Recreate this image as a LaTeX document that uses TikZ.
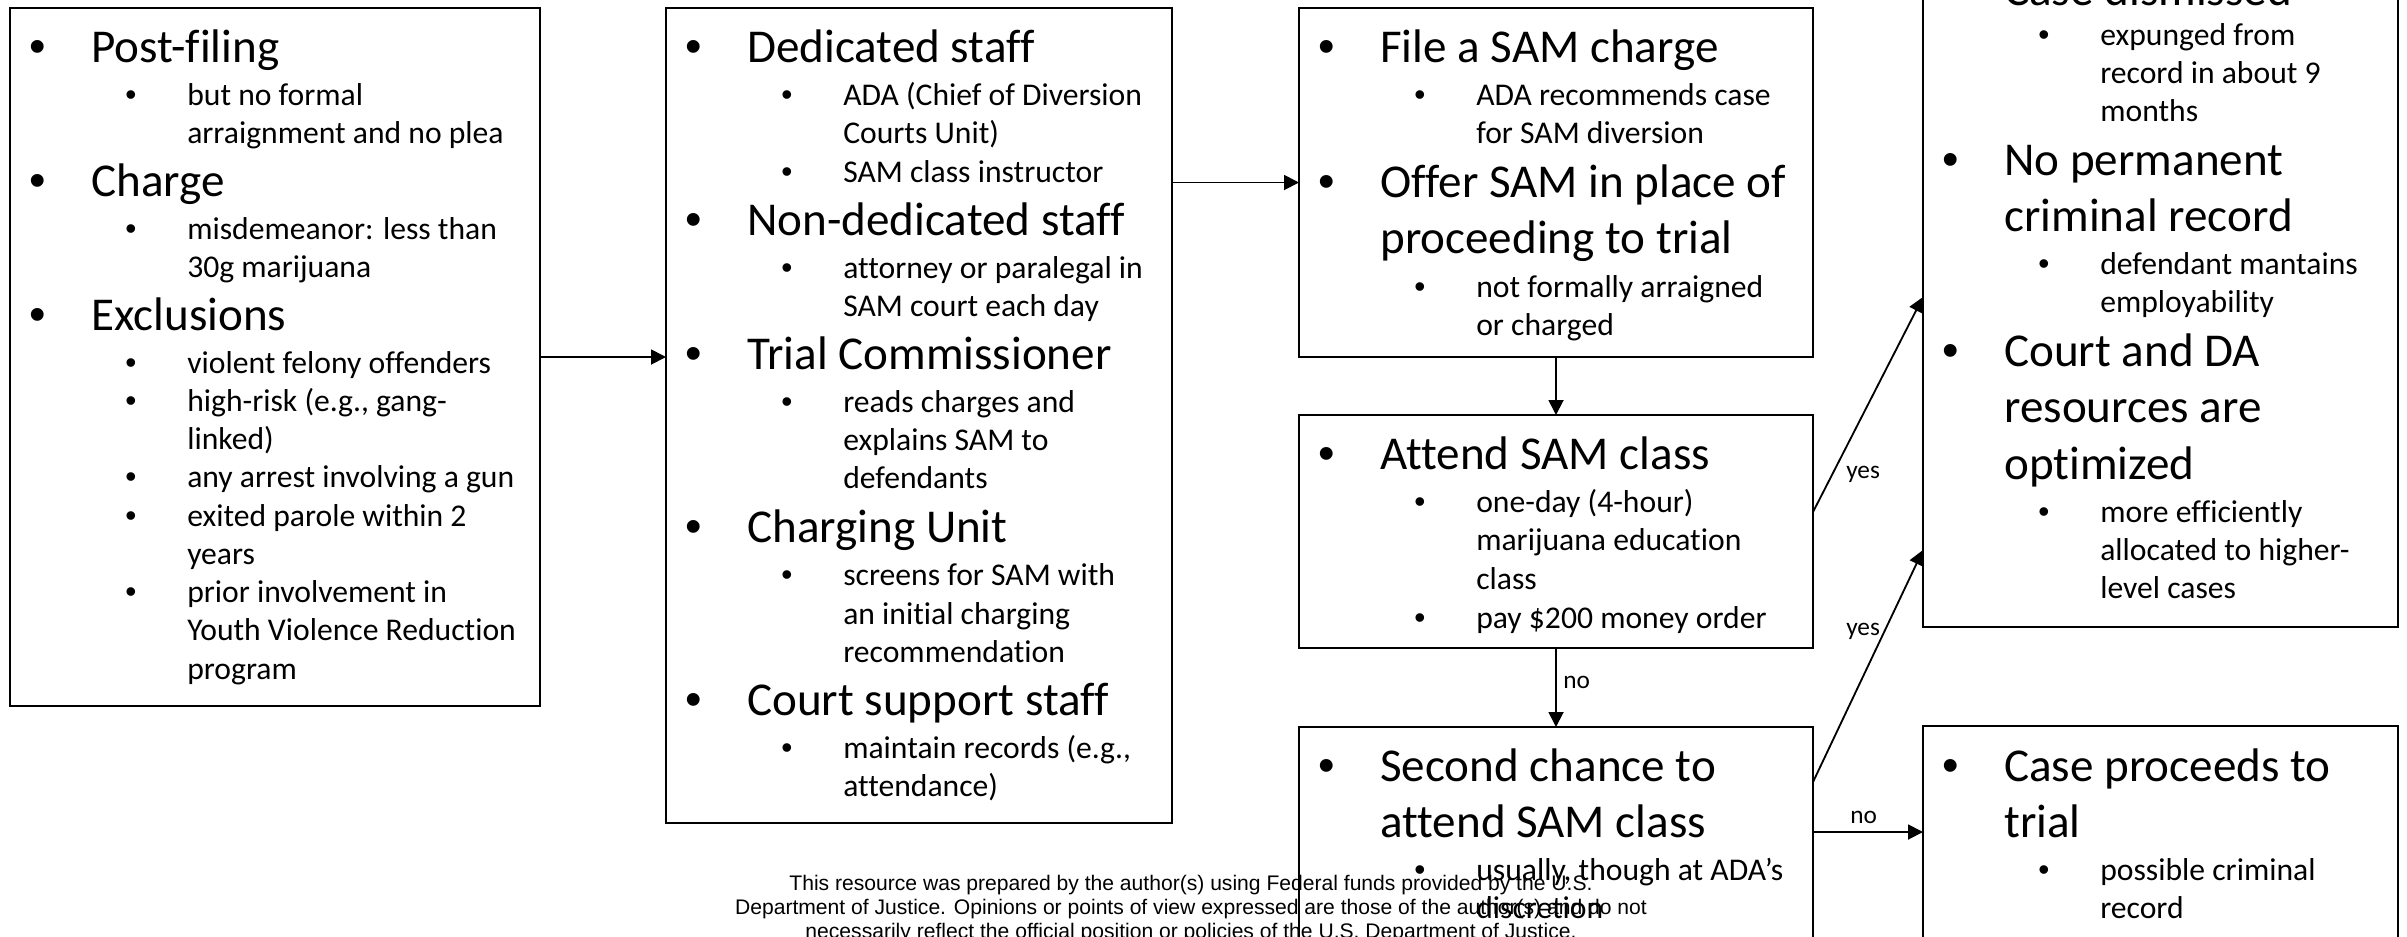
\documentclass[tikz,border=0pt]{standalone}
\usepackage{fontspec}
\setmainfont{Carlito}[Ligatures={NoCommon,NoRequired,NoContextual},RawFeature={-liga;-clig;-dlig;-calt}]
\newfontfamily\bulfont{Liberation Sans}
\newfontfamily\footfont{Liberation Sans}
\usetikzlibrary{arrows.meta,fit,calc}
\newcommand\rl[1]{\hbox{#1}}
\newcommand\mitem[4]{%
  \node[mbul] (#1b) at ({#2+28},#3) {•};
  \node[mtxt] (#1) at ({#2+81},#3) {\vtop{\baselineskip=40.2pt #4}};}
\newcommand\sitem[4]{%
  \node[sbul] (#1b) at ({#2+121},#3) {•};
  \node[stxt] (#1) at ({#2+177},#3) {\vtop{\baselineskip=27.3pt #4}};}
\begin{document}
\begin{tikzpicture}[x=0.025cm,y=-0.025cm,
  box/.style={draw,line width=1pt,inner sep=0pt,outer sep=0pt},
  arr/.style={line width=1.3pt,-{Triangle[length=0.375cm,width=0.375cm]}},
  mbul/.style={anchor=base,inner sep=0pt,font=\bulfont\fontsize{33.5}{40}\selectfont},
  sbul/.style={anchor=base,inner sep=0pt,font=\bulfont\fontsize{22.5}{27}\selectfont},
  mtxt/.style={anchor=base west,inner sep=0pt,font=\fontsize{33.5}{40.2}\selectfont},
  stxt/.style={anchor=base west,inner sep=0pt,font=\fontsize{22.5}{27.3}\selectfont},
  lbl/.style={anchor=base west,inner sep=0pt,font=\fontsize{18}{22}\selectfont},
  foot/.style={anchor=base,inner sep=0pt,font=\footfont\fontsize{15}{17}\selectfont}]
\useasboundingbox (0,0) rectangle (2407,936);
\clip (0,0) rectangle (2407,936);

% boxes
\node[box,fit={(10,8) (540,706)}] (b1) {};
\node[box,fit={(666,8) (1172,823)}] (b2) {};
\node[box,fit={(1299,8) (1813,357)}] (b3) {};
\node[box,fit={(1299,415) (1813,648)}] (b4) {};
\node[box,fit={(1299,727) (1813,1000)}] (b5) {};
\node[box,fit={(1923,-60) (2398,627)}] (b6) {};
\node[box,fit={(1923,726) (2398,1000)}] (b7) {};

% box 1
\mitem{a1}{10}{62}{\rl{Post-filing}}
\sitem{a2}{10}{105}{\rl{but no formal}\rl{arraignment and no plea}}
\mitem{a3}{10}{196.4}{\rl{Charge}}
\sitem{a4}{10}{239.4}{\rl{misdemeanor: less than}\rl{30g marijuana}}
\mitem{a5}{10}{330}{\rl{Exclusions}}
\sitem{a6}{10}{373}{\rl{violent felony offenders}}
\sitem{a7}{10}{411.2}{\rl{high-risk (e.g., gang-}\rl{linked)}}
\sitem{a8}{10}{487.6}{\rl{any arrest involving a gun}}
\sitem{a9}{10}{526}{\rl{exited parole within 2}\rl{years}}
\sitem{a10}{10}{602.4}{\rl{prior involvement in}\rl{Youth Violence Reduction}\rl{program}}

% box 2
\mitem{c1}{666}{62}{\rl{Dedicated staff}}
\sitem{c2}{666}{105}{\rl{ADA (Chief of Diversion}\rl{Courts Unit)}}
\sitem{c3}{666}{182}{\rl{SAM class instructor}}
\mitem{c4}{666}{235.5}{\rl{Non-dedicated staff}}
\sitem{c5}{666}{278.5}{\rl{attorney or paralegal in}\rl{SAM court each day}}
\mitem{c6}{666}{369.5}{\rl{Trial Commissioner}}
\sitem{c7}{666}{412}{\rl{reads charges and}\rl{explains SAM to}\rl{defendants}}
\mitem{c8}{666}{542.4}{\rl{Charging Unit}}
\sitem{c9}{666}{585.6}{\rl{screens for SAM with}\rl{an initial charging}\rl{recommendation}}
\mitem{c10}{666}{715.5}{\rl{Court support staff}}
\sitem{c11}{666}{758.5}{\rl{maintain records (e.g.,}\rl{attendance)}}

% box 3
\mitem{d1}{1299}{62}{\rl{File a SAM charge}}
\sitem{d2}{1299}{105}{\rl{ADA recommends case}\rl{for SAM diversion}}
\mitem{d3}{1299}{197}{\rl{Offer SAM in place of}\rl{proceeding to trial}}
\sitem{d4}{1299}{297}{\rl{not formally arraigned}\rl{or charged}}

% box 4
\mitem{e1}{1299}{469.5}{\rl{Attend SAM class}}
\sitem{e2}{1299}{512.5}{\rl{one-day (4-hour)}\rl{marijuana education}\rl{class}}
\sitem{e3}{1299}{628}{\rl{pay \$200 money order}}

% box 5
\mitem{g1}{1299}{781}{\rl{Second chance to}\rl{attend SAM class}}
\sitem{g2}{1299}{880}{\rl{usually, though at ADA’s}\rl{discretion}}

% box 6
\mitem{h1}{1923}{5}{\rl{Case dismissed}}
\sitem{h2}{1923}{45}{\rl{expunged from}\rl{record in about 9}\rl{months}}
\mitem{h3}{1923}{175}{\rl{No permanent}\rl{criminal record}}
\sitem{h4}{1923}{274.5}{\rl{defendant mantains}\rl{employability}}
\mitem{h5}{1923}{366}{\rl{Court and DA}\rl{resources are}\rl{optimized}}
\sitem{h6}{1923}{522}{\rl{more efficiently}\rl{allocated to higher-}\rl{level cases}}

% box 7
\mitem{k1}{1923}{781}{\rl{Case proceeds to}\rl{trial}}
\sitem{k2}{1923}{880}{\rl{possible criminal}\rl{record}}

% connectors
\draw[arr] (b1.east) -- (b1.east -| b2.west);
\draw[arr] (b3.west -| b2.east) -- (b3.west);
\draw[arr] (b3.south) -- (b4.north);
\draw[arr] (b4.south) -- (b5.north);
\coordinate (p4) at ($(b4.east)+(0,-19.5)$);
\coordinate (q6a) at ($(b6.west)+(0,13.5)$);
\coordinate (p5a) at ($(b5.north east)+(0,55)$);
\coordinate (q6b) at ($(b6.south west)+(0,-77)$);
\coordinate (p5b) at ($(b5.north east)+(0,105)$);
\draw[arr] (p4) -- (q6a);
\draw[arr] (p5a) -- (q6b);
\draw[arr] (p5b) -- (p5b -| b7.west);

% labels
\node[lbl] (l1) at (1563,688) {no};
\node[lbl] (l2) at (1846,478) {yes};
\node[lbl] (l3) at (1846,635) {yes};
\node[lbl] (l4) at (1850,823) {no};

% footer
\node[foot] (f1) at (1191,890) {This resource was prepared by the author(s) using Federal funds provided by the U.S.};
\node[foot] (f2) at (1191,914) {Department of Justice. Opinions or points of view expressed are those of the author(s) and do not};
\node[foot] (f3) at (1191,938) {necessarily reflect the official position or policies of the U.S. Department of Justice.};
\end{tikzpicture}
\end{document}
